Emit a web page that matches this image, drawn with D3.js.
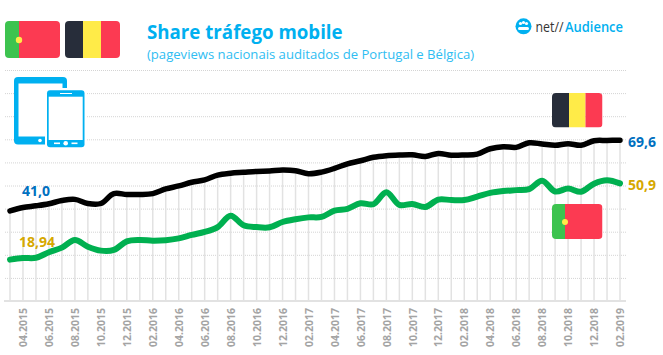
<!DOCTYPE html>
<html>
<head>
<meta charset="utf-8">
<title>Share tráfego mobile</title>
<script src="https://d3js.org/d3.v7.min.js"></script>
<style>
  html, body { margin: 0; padding: 0; background: #fff; }
  svg { display: block; }
  text { font-family: "Open Sans", sans-serif; }
</style>
</head>
<body>
<div id="my_dataviz"></div>
<script>

var months = ["03.2015","04.2015","05.2015","06.2015","07.2015","08.2015","09.2015","10.2015","11.2015","12.2015",
  "01.2016","02.2016","03.2016","04.2016","05.2016","06.2016","07.2016","08.2016","09.2016","10.2016","11.2016","12.2016",
  "01.2017","02.2017","03.2017","04.2017","05.2017","06.2017","07.2017","08.2017","09.2017","10.2017","11.2017","12.2017",
  "01.2018","02.2018","03.2018","04.2018","05.2018","06.2018","07.2018","08.2018","09.2018","10.2018","11.2018","12.2018",
  "01.2019","02.2019"];

var belgica = [39.0,40.5,41.2,42.1,43.5,44.0,42.2,42.2,46.5,46.1,46.1,46.5,48.5,49.8,51.4,52.4,54.5,55.3,55.7,56.1,56.3,56.7,56.4,55.1,
  55.8,57.4,59.4,60.7,62.2,62.9,63.2,63.3,62.6,63.9,63.1,63.2,63.6,65.9,66.8,66.5,68.5,68.0,67.4,68.1,67.4,69.4,69.5,69.6];

var portugal = [17.9,18.6,18.7,21.1,23.1,26.4,23.5,21.8,22.1,25.8,26.4,26.1,26.3,27.1,28.6,29.9,32.0,36.9,32.8,32.0,31.9,34.2,35.4,36.2,
  36.4,39.1,39.9,42.3,41.9,47.1,41.6,42.0,40.7,43.9,43.7,43.7,45.2,46.8,47.6,48.0,48.4,52.1,47.4,48.7,47.3,50.8,52.3,50.9];

var yTicks = [0,10,20,30,40,50,60,70,80,90,100];
var labelBelgicaFirst = "41,0", labelBelgicaLast = "69,6";
var labelPortugalFirst = "18,94", labelPortugalLast = "50,9";

var blue = "#00b0f0", flagGreen = "#3dc34f", flagRed = "#fc3a52", flagYellow = "#ffeb48", flagDark = "#272d3a";

var svg = d3.select("#my_dataviz")
  .append("svg")
    .attr("width", 663)
    .attr("height", 355);

var x = d3.scalePoint().domain(months).range([10, 620]);
var y = d3.scaleLinear().domain([0, 100]).range([301, 70]);

// horizontal dotted grid
var gridAxis = svg.append("g")
  .attr("transform", "translate(626,0)")
  .call(d3.axisLeft(y).tickValues(yTicks).tickSize(622).tickFormat(""));
gridAxis.select(".domain").remove();
gridAxis.selectAll("line")
  .attr("stroke", "#d4d4d4")
  .attr("stroke-width", 1)
  .attr("stroke-dasharray", "1,1");

// drop lines, one per month, from the black line down to the base
svg.append("g").selectAll("line")
  .data(months)
  .enter().append("line")
    .attr("x1", function(d) { return x(d); })
    .attr("x2", function(d) { return x(d); })
    .attr("y1", function(d, i) { return y(belgica[i]); })
    .attr("y2", y(0))
    .attr("stroke", "#e2e2e2")
    .attr("stroke-width", 1.5);

// X axis
var xAxis = svg.append("g")
  .attr("transform", "translate(0," + y(0) + ")")
  .call(d3.axisBottom(x)
    .tickValues(months.filter(function(d, i) { return i % 2 == 1; }))
    .tickSize(0));
xAxis.select(".domain").remove();
xAxis.selectAll("text")
  .attr("transform", "rotate(-90)")
  .attr("x", -7)
  .attr("y", 0)
  .attr("dy", "0.35em")
  .attr("text-anchor", "end")
  .attr("fill", "#a4a4a4")
  .style("font-family", "'Open Sans', sans-serif")
  .style("font-size", "10.5px")
  .style("font-weight", "700");

svg.append("line")
  .attr("x1", 4).attr("x2", 626)
  .attr("y1", y(0)).attr("y2", y(0))
  .attr("stroke", "#e2e2e2")
  .attr("stroke-width", 2);

// the two lines
var line = d3.line()
  .x(function(d, i) { return x(months[i]); })
  .y(function(d) { return y(d); })
  .curve(d3.curveCatmullRom.alpha(0.5));

svg.append("path")
  .datum(belgica)
  .attr("fill", "none")
  .attr("stroke", "#000")
  .attr("stroke-width", 5.5)
  .attr("stroke-linecap", "round")
  .attr("d", line);

svg.append("path")
  .datum(portugal)
  .attr("fill", "none")
  .attr("stroke", "#00b050")
  .attr("stroke-width", 6)
  .attr("stroke-linecap", "round")
  .attr("d", line);

// value labels
function valueLabel(txt, px, py, color) {
  svg.append("text")
    .attr("x", px).attr("y", py)
    .attr("fill", color)
    .style("font-size", "14px")
    .style("font-weight", "700")
    .text(txt);
}
valueLabel(labelBelgicaFirst, 22, 196, "#0070c0");
valueLabel(labelPortugalFirst, 19, 247, "#d6a800");
valueLabel(labelBelgicaLast, 628, 147, "#0070c0");
valueLabel(labelPortugalLast, 628, 190, "#d6a800");

// titles
svg.append("text")
  .attr("x", 147).attr("y", 39)
  .attr("fill", blue)
  .style("font-size", "18.7px")
  .style("font-weight", "700")
  .text("Share tráfego mobile");

svg.append("text")
  .attr("x", 147).attr("y", 59)
  .attr("fill", "#2fbdf2")
  .style("font-size", "13.1px")
  .text("(pageviews nacionais auditados de Portugal e Bélgica)");

// flags
function flag(fx, fy, w, h, stripes) {
  var id = "clip" + fx + "_" + fy;
  svg.append("clipPath").attr("id", id)
    .append("rect").attr("x", fx).attr("y", fy).attr("width", w).attr("height", h).attr("rx", 4);
  var g = svg.append("g").attr("clip-path", "url(#" + id + ")");
  var cur = fx;
  stripes.forEach(function(s) {
    g.append("rect").attr("x", cur).attr("y", fy).attr("width", s[0]).attr("height", h).attr("fill", s[1]);
    cur += s[0];
  });
}
flag(5, 21, 55, 37, [[14, flagGreen], [41, flagRed]]);
svg.append("circle").attr("cx", 19).attr("cy", 40).attr("r", 3.2).attr("fill", flagYellow);
flag(65, 21, 55, 37, [[18, flagDark], [18, flagYellow], [19, flagRed]]);
flag(552, 93, 50.5, 34.5, [[17, flagDark], [16.5, flagYellow], [17, flagRed]]);
flag(552, 204, 50.5, 35, [[13, flagGreen], [37.5, flagRed]]);
svg.append("circle").attr("cx", 565).attr("cy", 222).attr("r", 3).attr("fill", flagYellow);

// tablet and phone icon
var icon = svg.append("g");
icon.append("rect").attr("x", 14).attr("y", 77).attr("width", 53).attr("height", 67.5).attr("rx", 4).attr("fill", blue);
icon.append("rect").attr("x", 18.5).attr("y", 83.5).attr("width", 44).attr("height", 53).attr("fill", "#fff");
icon.append("circle").attr("cx", 40).attr("cy", 140.5).attr("r", 1.8).attr("fill", "#fff");
icon.append("rect").attr("x", 45).attr("y", 88).attr("width", 41).attr("height", 61).attr("rx", 3).attr("fill", "#fff");
icon.append("rect").attr("x", 47).attr("y", 90.3).attr("width", 37.5).attr("height", 57).attr("rx", 3).attr("fill", blue);
icon.append("rect").attr("x", 48.7).attr("y", 96.7).attr("width", 34).attr("height", 43.3).attr("fill", "#fff");
icon.append("rect").attr("x", 60).attr("y", 93).attr("width", 12).attr("height", 1).attr("fill", "#fff");
icon.append("circle").attr("cx", 65.7).attr("cy", 143.3).attr("r", 2.3).attr("fill", "#fff");
icon.append("rect").attr("x", 54).attr("y", 142.5).attr("width", 6).attr("height", 1.6).attr("fill", "#fff");
icon.append("rect").attr("x", 71.5).attr("y", 142.5).attr("width", 6).attr("height", 1.6).attr("fill", "#fff");

// logo
svg.append("circle").attr("cx", 523.5).attr("cy", 26.3).attr("r", 8).attr("fill", blue);
var dots = [[520.5,23.5],[526.5,23.5],[523.5,22.5]];
dots.forEach(function(d) {
  svg.append("circle").attr("cx", d[0]).attr("cy", d[1]).attr("r", 1.6).attr("fill", "#fff");
});
svg.append("rect").attr("x", 518).attr("y", 27).attr("width", 11).attr("height", 3).attr("rx", 1.5).attr("fill", "#fff");

svg.append("text").attr("x", 535.5).attr("y", 31.5)
  .attr("fill", "#333").style("font-size", "14px")
  .attr("textLength", 28).attr("lengthAdjust", "spacingAndGlyphs")
  .text("net//");
svg.append("text").attr("x", 565).attr("y", 31.5)
  .attr("fill", blue).style("font-size", "14px").style("font-weight", "600")
  .attr("textLength", 58).attr("lengthAdjust", "spacingAndGlyphs")
  .text("Audience");

</script>
</body>
</html>
